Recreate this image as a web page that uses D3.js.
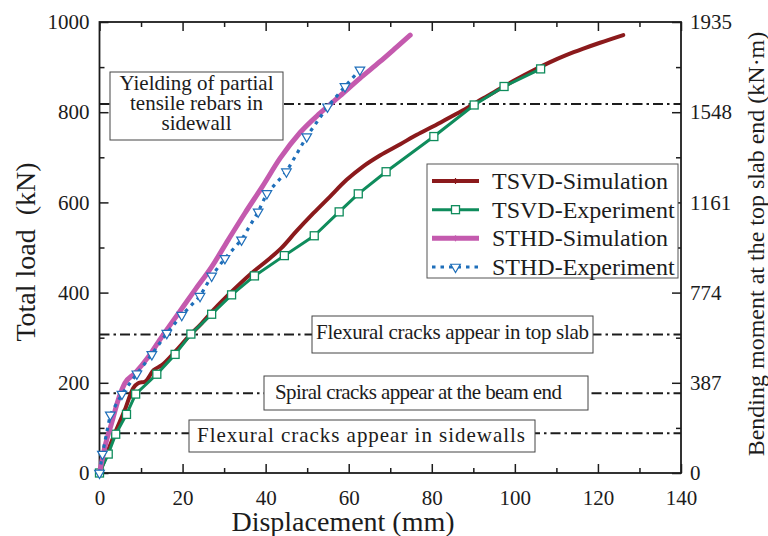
<!DOCTYPE html>
<html>
<head>
<meta charset="utf-8">
<script src="https://cdn.jsdelivr.net/npm/d3@7"></script>
<style>
  html, body { margin: 0; padding: 0; background: #fff; }
  svg { display: block; font-family: "Liberation Serif", "Times New Roman", serif; }
</style>
</head>
<body>
<svg id="chart" width="768" height="536"></svg>
<script>
// ---- data ---------------------------------------------------------------
const xMajorTicks = [0, 20, 40, 60, 80, 100, 120, 140];
const xMinorTicks = [10, 30, 50, 70, 90, 110, 130];
const loadMajorTicks = [0, 200, 400, 600, 800, 1000];
const loadMinorTicks = [100, 300, 500, 700, 900];
const momentTickLabels = ["0", "387", "774", "1161", "1548", "1935"];

const seriesNames = ["TSVD-Simulation", "TSVD-Experiment", "STHD-Simulation", "STHD-Experiment"];

// [displacement (mm), total load (kN)]
const tsvdSimulation = [
  [0, 0], [2.1, 51], [3.7, 88], [6.1, 140], [8.1, 188], [9.3, 199], [11, 203],
  [13, 228], [15, 239], [18.2, 269], [21.4, 302], [24.6, 332], [27.8, 365],
  [31.8, 402], [36.6, 443], [40.6, 473], [43.7, 498], [47.3, 535], [51.5, 576],
  [55.5, 613], [59.5, 650], [63.5, 680], [67.5, 704], [72.4, 729], [76.4, 750],
  [80.4, 769], [84.4, 789], [88.4, 809], [92.4, 831], [96.4, 852], [100.4, 873],
  [104.5, 893], [108.5, 911], [112.5, 927], [116.5, 941], [120.5, 954], [126.1, 971]
];
const tsvdExperiment = [
  [0, 0], [2.1, 42], [3.9, 86], [6.5, 130], [8.7, 175], [13.8, 219], [18.2, 263],
  [22, 308], [27, 352], [31.8, 395], [37.3, 437], [44.5, 482], [51.7, 526],
  [57.7, 579], [62.3, 619], [69, 668], [80.5, 746], [90.2, 816], [97.4, 857],
  [106.2, 896]
];
const sthdSimulation = [
  [0, 0], [1.3, 58], [2.9, 110], [4.5, 162], [6.1, 199], [8.5, 221], [11.8, 258],
  [15, 302], [19, 354], [23, 406], [27, 457], [31, 517], [35, 576], [39.2, 635],
  [43.5, 698], [48.3, 755], [53.1, 798], [57.9, 836], [62.7, 875], [67.5, 912],
  [71.6, 945], [74.8, 971]
];
const sthdExperiment = [
  [0, 0], [0.7, 42], [2.6, 129], [5.4, 175], [9, 220], [12.6, 263], [16.2, 310],
  [19.8, 350], [24.2, 392], [27, 437], [30.2, 476], [34.2, 517], [38.2, 579],
  [40.3, 620], [45, 668], [49.9, 746], [54.9, 812], [59.1, 857], [62.7, 894]
];

// load levels of the observed damage stages (kN) and their captions
const stageLevels = [818, 307, 177, 88];
const stageCaptions = [
  ["Yielding of partial", "tensile rebars in", "sidewall"],
  ["Flexural cracks appear in top slab"],
  ["Spiral cracks appear at the beam end"],
  ["Flexural cracks appear in sidewalls"]
];

// ---- layout -------------------------------------------------------------
const plot = { left: 99.5, right: 681, top: 22, bottom: 473 };
const colors = ["#8b1a1c", "#0f8c5c", "#c45aae", "#1f6fba"];
const ink = "#1c1c1c";

// caption boxes in pixels: box rect, text anchor x, first baseline, line step, text width
const captionLayout = [
  { x0: 110, x1: 283, y0: 72, y1: 140, tx: 196.5, ty: 90, step: 20, anchor: "middle" },
  { x0: 312, x1: 593, y0: 316, y1: 353, tx: 452.5, ty: 339, anchor: "middle", len: 273 },
  { x0: 264, x1: 588, y0: 376, y1: 410, tx: 275, ty: 398.5, anchor: "start", len: 287 },
  { x0: 189, x1: 535, y0: 420, y1: 452, tx: 197, ty: 442, anchor: "start", len: 328 }
];

const svg = d3.select("#chart");

const x = d3.scaleLinear().domain([0, 140]).range([plot.left, plot.right]);
const y = d3.scaleLinear().domain([0, 1000]).range([plot.bottom, plot.top]);

// ---- stage reference lines + caption boxes -------------------------------
const stages = svg.append("g");
stages.selectAll("line")
  .data(stageLevels)
  .join("line")
  .attr("x1", x(0)).attr("x2", x(140))
  .attr("y1", d => y(d)).attr("y2", d => y(d))
  .attr("stroke", ink)
  .attr("stroke-width", 2)
  .attr("stroke-dasharray", "10,4,2.5,4");

captionLayout.forEach((b, i) => {
  stages.append("rect")
    .attr("x", b.x0).attr("y", b.y0)
    .attr("width", b.x1 - b.x0).attr("height", b.y1 - b.y0)
    .attr("fill", "#fff").attr("stroke", "#444").attr("stroke-width", 1);
  stageCaptions[i].forEach((line, k) => {
    const t = stages.append("text")
      .attr("x", b.tx)
      .attr("y", b.ty + k * (b.step || 0))
      .attr("text-anchor", b.anchor)
      .attr("font-size", 21)
      .attr("fill", ink)
      .text(line);
    if (b.len) t.attr("textLength", b.len).attr("lengthAdjust", "spacing");
  });
});

// ---- axes (ticks point inward) -----------------------------------------
function styleAxis(g) {
  g.select(".domain").remove();
  g.selectAll("line").attr("stroke", ink).attr("stroke-width", 1.5);
  g.selectAll("text").attr("fill", ink).attr("font-size", 21)
    .attr("font-family", '"Liberation Serif", "Times New Roman", serif');
}

// bottom
svg.append("g").attr("transform", `translate(0,${plot.bottom})`)
  .call(d3.axisBottom(x).tickValues(xMinorTicks).tickSize(-5).tickFormat(""))
  .call(styleAxis);
svg.append("g").attr("transform", `translate(0,${plot.bottom})`)
  .call(d3.axisBottom(x).tickValues(xMajorTicks).tickSize(-9).tickPadding(17).tickFormat(d3.format("d")))
  .call(styleAxis);
// top
svg.append("g").attr("transform", `translate(0,${plot.top})`)
  .call(d3.axisTop(x).tickValues(xMinorTicks).tickSize(-5).tickFormat(""))
  .call(styleAxis);
svg.append("g").attr("transform", `translate(0,${plot.top})`)
  .call(d3.axisTop(x).tickValues(xMajorTicks).tickSize(-9).tickFormat(""))
  .call(styleAxis);
// left
svg.append("g").attr("transform", `translate(${plot.left},0)`)
  .call(d3.axisLeft(y).tickValues(loadMinorTicks).tickSize(-5).tickFormat(""))
  .call(styleAxis);
svg.append("g").attr("transform", `translate(${plot.left},0)`)
  .call(d3.axisLeft(y).tickValues(loadMajorTicks).tickSize(-9).tickPadding(10).tickFormat(d3.format("d")))
  .call(styleAxis);
// right (bending moment at the top slab end)
svg.append("g").attr("transform", `translate(${plot.right},0)`)
  .call(d3.axisRight(y).tickValues(loadMinorTicks).tickSize(-5).tickFormat(""))
  .call(styleAxis);
svg.append("g").attr("transform", `translate(${plot.right},0)`)
  .call(d3.axisRight(y).tickValues(loadMajorTicks).tickSize(-9).tickPadding(9)
    .tickFormat((d, i) => momentTickLabels[i]))
  .call(styleAxis);

// frame
svg.append("rect")
  .attr("x", plot.left).attr("y", plot.top)
  .attr("width", plot.right - plot.left).attr("height", plot.bottom - plot.top)
  .attr("fill", "none").attr("stroke", ink).attr("stroke-width", 1.8);

// axis titles
svg.append("text")
  .attr("x", 343).attr("y", 531)
  .attr("text-anchor", "middle").attr("font-size", 28).attr("fill", ink)
  .text("Displacement (mm)");
svg.append("text")
  .attr("transform", "translate(35,252) rotate(-90)")
  .attr("text-anchor", "middle").attr("font-size", 28).attr("fill", ink)
  .attr("xml:space", "preserve")
  .text("Total load  (kN)");
svg.append("text")
  .attr("transform", "translate(764,244) rotate(-90)")
  .attr("text-anchor", "middle").attr("font-size", 24).attr("fill", ink)
  .text("Bending moment at the top slab end (kN\u00b7m)");

// ---- curves ---------------------------------------------------------------
const line = d3.line().x(d => x(d[0])).y(d => y(d[1]));
const smoothLine = d3.line().x(d => x(d[0])).y(d => y(d[1])).curve(d3.curveMonotoneX);
const curves = svg.append("g");

// TSVD simulation
curves.append("path").datum(tsvdSimulation)
  .attr("d", smoothLine).attr("fill", "none")
  .attr("stroke", colors[0]).attr("stroke-width", 4)
  .attr("stroke-linejoin", "round").attr("stroke-linecap", "round");

// TSVD experiment
curves.append("path").datum(tsvdExperiment)
  .attr("d", line).attr("fill", "none")
  .attr("stroke", colors[1]).attr("stroke-width", 3)
  .attr("stroke-linejoin", "round");
curves.append("g").selectAll("rect")
  .data(tsvdExperiment)
  .join("rect")
  .attr("x", d => x(d[0]) - 4).attr("y", d => y(d[1]) - 4)
  .attr("width", 8).attr("height", 8)
  .attr("fill", "#fff").attr("stroke", colors[1]).attr("stroke-width", 1.3);

// STHD simulation
curves.append("path").datum(sthdSimulation)
  .attr("d", smoothLine).attr("fill", "none")
  .attr("stroke", colors[2]).attr("stroke-width", 5)
  .attr("stroke-linejoin", "round").attr("stroke-linecap", "round");

// STHD experiment
const tri = d3.symbol().type(d3.symbolTriangle).size(40);
curves.append("path").datum(sthdExperiment)
  .attr("d", line).attr("fill", "none")
  .attr("stroke", colors[3]).attr("stroke-width", 3.2)
  .attr("stroke-dasharray", "3.5,5");
curves.append("g").selectAll("path")
  .data(sthdExperiment)
  .join("path")
  .attr("d", tri)
  .attr("transform", d => `translate(${x(d[0])},${y(d[1])}) rotate(180)`)
  .attr("fill", "#fff").attr("stroke", colors[3]).attr("stroke-width", 1.2);

// ---- legend -------------------------------------------------------------
const legend = svg.append("g");
legend.append("rect")
  .attr("x", 427).attr("y", 164).attr("width", 251).attr("height", 114)
  .attr("fill", "#fff").attr("stroke", "#555").attr("stroke-width", 1);

const rowY = d3.scalePoint().domain(seriesNames).range([181, 267]);
const samples = [
  { w: 4, dash: null, mark: "tick" },
  { w: 3, dash: null, mark: "square" },
  { w: 5, dash: null, mark: "tick" },
  { w: 3.2, dash: "3.5,5", mark: "triangle" }
];
seriesNames.forEach((name, i) => {
  const ry = rowY(name);
  const s = samples[i];
  const l = legend.append("line")
    .attr("x1", 432).attr("x2", 479).attr("y1", ry).attr("y2", ry)
    .attr("stroke", colors[i]).attr("stroke-width", s.w);
  if (s.dash) l.attr("stroke-dasharray", s.dash);
  if (s.mark === "tick") {
    legend.append("line")
      .attr("x1", 455.5).attr("x2", 455.5).attr("y1", ry - 3).attr("y2", ry + 3)
      .attr("stroke", colors[i]).attr("stroke-width", 1.2);
  } else if (s.mark === "square") {
    legend.append("rect")
      .attr("x", 451.5).attr("y", ry - 4).attr("width", 8).attr("height", 8)
      .attr("fill", "#fff").attr("stroke", colors[i]).attr("stroke-width", 1.3);
  } else {
    legend.append("path")
      .attr("d", tri)
      .attr("transform", `translate(455.5,${ry}) rotate(180)`)
      .attr("fill", "#fff").attr("stroke", colors[i]).attr("stroke-width", 1.2);
  }
  legend.append("text")
    .attr("x", 492).attr("y", ry + 8)
    .attr("font-size", 24).attr("fill", ink)
    .text(name);
});
</script>
</body>
</html>
